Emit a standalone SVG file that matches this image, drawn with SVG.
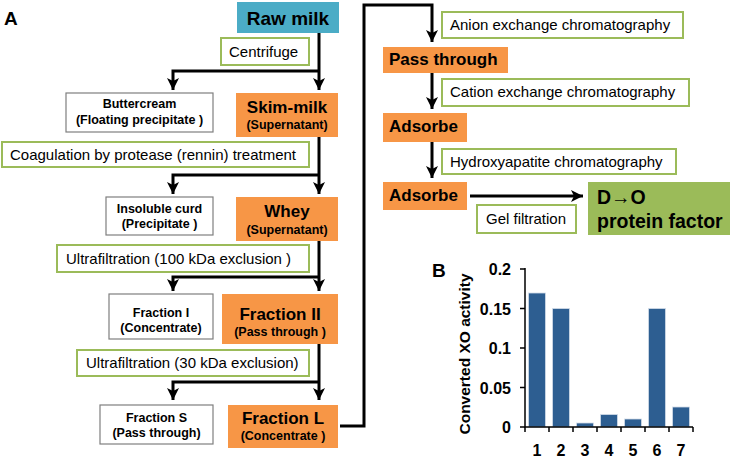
<svg xmlns="http://www.w3.org/2000/svg" width="733" height="459" viewBox="0 0 733 459">
<style>
text{font-family:"Liberation Sans",Arial,Helvetica,sans-serif;fill:#000}
.step{fill:#fff;stroke:#9bbb59;stroke-width:2}
.res{fill:#fff;stroke:#7f7f7f;stroke-width:1.2}
.org{fill:#f79646}
.st{font-size:15px}
.big{font-size:17px;font-weight:bold}
.sm{font-size:12.5px;font-weight:bold}
.c{text-anchor:middle}
.conn{fill:none;stroke:#000;stroke-width:3;marker-end:url(#ah)}
.ax{stroke:#000;stroke-width:1.5;fill:none}
.bar{fill:#2d5e91;stroke:#d3dde9;stroke-width:0.8}
.tl{font-size:16px;font-weight:bold}
</style>
<defs>
<marker id="ah" markerUnits="userSpaceOnUse" markerWidth="13" markerHeight="13" refX="12" refY="6" orient="auto">
<path d="M0,0 L12,6 L0,12 L3,6 z" fill="#000"/>
</marker>
</defs>

<text x="4" y="25" font-size="19" font-weight="bold">A</text>
<text x="432" y="277" font-size="19" font-weight="bold">B</text>

<g id="connectors">
<path class="conn" d="M319,33 V90"/>
<path class="conn" d="M319,71 H173 V90"/>
<path class="conn" d="M319,137 V194"/>
<path class="conn" d="M319,175 H173 V194"/>
<path class="conn" d="M319,241 V291"/>
<path class="conn" d="M319,277 H173 V291"/>
<path class="conn" d="M319,344 V400"/>
<path class="conn" d="M319,382 H173 V400"/>
<path class="conn" d="M340,426 H364 V5 H432 V42"/>
<path class="conn" d="M432,73 V109"/>
<path class="conn" d="M432,142 V178"/>
<path class="conn" d="M470,196 H583"/>
</g>

<g id="raw-milk">
<rect x="237" y="2" width="102" height="31" fill="#4bacc6"/>
<text class="c" x="288" y="25" font-size="19" font-weight="bold">Raw milk</text>
</g>
<g id="centrifuge">
<rect class="step" x="221" y="38" width="88" height="27"/>
<text class="st" x="229" y="57">Centrifuge</text>
</g>
<g id="buttercream">
<rect class="res" x="66" y="93" width="147" height="39"/>
<text class="sm c" x="139.5" y="108">Buttercream</text>
<text class="sm c" x="139.5" y="124">(Floating precipitate )</text>
</g>
<g id="skim-milk">
<rect class="org" x="236" y="93" width="102" height="44"/>
<text class="big c" x="287" y="113">Skim-milk</text>
<text class="sm c" x="287" y="129">(Supernatant)</text>
</g>
<g id="coagulation">
<rect class="step" x="2" y="142" width="307" height="25"/>
<text class="st" x="10" y="160">Coagulation by protease (rennin) treatment</text>
</g>
<g id="insoluble-curd">
<rect class="res" x="106" y="197" width="107" height="38"/>
<text class="sm c" x="159.5" y="213">Insoluble curd</text>
<text class="sm c" x="159.5" y="228">(Precipitate )</text>
</g>
<g id="whey">
<rect class="org" x="236" y="197" width="102" height="44"/>
<text class="big c" x="287" y="217">Whey</text>
<text class="sm c" x="287" y="234">(Supernatant)</text>
</g>
<g id="uf100">
<rect class="step" x="57" y="245" width="252" height="27"/>
<text class="st" x="66" y="264">Ultrafiltration (100 kDa exclusion )</text>
</g>
<g id="fraction-i">
<rect class="res" x="109" y="294" width="104" height="45"/>
<text class="sm c" x="161" y="317">Fraction I</text>
<text class="sm c" x="161" y="332">(Concentrate)</text>
</g>
<g id="fraction-ii">
<rect class="org" x="222" y="294" width="116" height="50"/>
<text class="big c" x="280" y="320">Fraction II</text>
<text class="sm c" x="280" y="336">(Pass through )</text>
</g>
<g id="uf30">
<rect class="step" x="77" y="350" width="232" height="26"/>
<text class="st" x="86" y="368">Ultrafiltration (30 kDa exclusion)</text>
</g>
<g id="fraction-s">
<rect class="res" x="100" y="405" width="113" height="39"/>
<text class="sm c" x="156.5" y="422">Fraction S</text>
<text class="sm c" x="156.5" y="437">(Pass through)</text>
</g>
<g id="fraction-l">
<rect class="org" x="228" y="405" width="110" height="43"/>
<text class="big c" x="283" y="424">Fraction L</text>
<text class="sm c" x="283" y="440">(Concentrate )</text>
</g>

<g id="anion">
<rect class="step" x="442" y="12" width="241" height="26"/>
<text class="st" x="450" y="30">Anion exchange chromatography</text>
</g>
<g id="pass-through">
<rect class="org" x="383" y="47" width="125" height="26"/>
<text class="big" x="389" y="65">Pass through</text>
</g>
<g id="cation">
<rect class="step" x="442" y="79" width="247" height="27"/>
<text class="st" x="450" y="97">Cation exchange chromatography</text>
</g>
<g id="adsorbe-1">
<rect class="org" x="383" y="113" width="84" height="29"/>
<text class="big" x="389" y="132">Adsorbe</text>
</g>
<g id="hydroxyapatite">
<rect class="step" x="442" y="149" width="234" height="25"/>
<text class="st" x="450" y="167">Hydroxyapatite chromatography</text>
</g>
<g id="adsorbe-2">
<rect class="org" x="383" y="182" width="84" height="28"/>
<text class="big" x="389" y="201">Adsorbe</text>
</g>
<g id="gel-filtration">
<rect class="step" x="477" y="205" width="99" height="28"/>
<text class="st" x="486" y="224">Gel filtration</text>
</g>
<g id="do-factor">
<rect x="588" y="182" width="142" height="53" fill="#9bbb59"/>
<text x="597" y="204" font-size="19.5" font-weight="bold">D→O</text>
<text x="597" y="228" font-size="19.5" font-weight="bold">protein factor</text>
</g>

<g id="chart">
<rect class="bar" x="528.5" y="293" width="17" height="134"/>
<rect class="bar" x="552.5" y="308.5" width="17" height="118.5"/>
<rect class="bar" x="576.5" y="423" width="17" height="4"/>
<rect class="bar" x="600.5" y="414.5" width="17" height="12.5"/>
<rect class="bar" x="624.5" y="419" width="17" height="8"/>
<rect class="bar" x="648.5" y="308.5" width="17" height="118.5"/>
<rect class="bar" x="672.5" y="407" width="17" height="20"/>
<path class="ax" d="M525,268 V427 H693"/>
<path class="ax" d="M520,269 H525 M520,308.5 H525 M520,348 H525 M520,387.5 H525 M520,427 H525"/>
<path class="ax" d="M525,427 V432 M549,427 V432 M573,427 V432 M597,427 V432 M621,427 V432 M645,427 V432 M669,427 V432 M693,427 V432"/>
<text class="tl" x="511" y="275" text-anchor="end">0.2</text>
<text class="tl" x="511" y="314.5" text-anchor="end">0.15</text>
<text class="tl" x="511" y="354" text-anchor="end">0.1</text>
<text class="tl" x="511" y="393.5" text-anchor="end">0.05</text>
<text class="tl" x="511" y="433" text-anchor="end">0</text>
<text class="tl c" x="537" y="456">1</text>
<text class="tl c" x="561" y="456">2</text>
<text class="tl c" x="585" y="456">3</text>
<text class="tl c" x="609" y="456">4</text>
<text class="tl c" x="633" y="456">5</text>
<text class="tl c" x="657" y="456">6</text>
<text class="tl c" x="681" y="456">7</text>
<text class="c" transform="translate(470,354) rotate(-90)" font-size="15.5" font-weight="bold">Converted XO activity</text>
</g>
</svg>
